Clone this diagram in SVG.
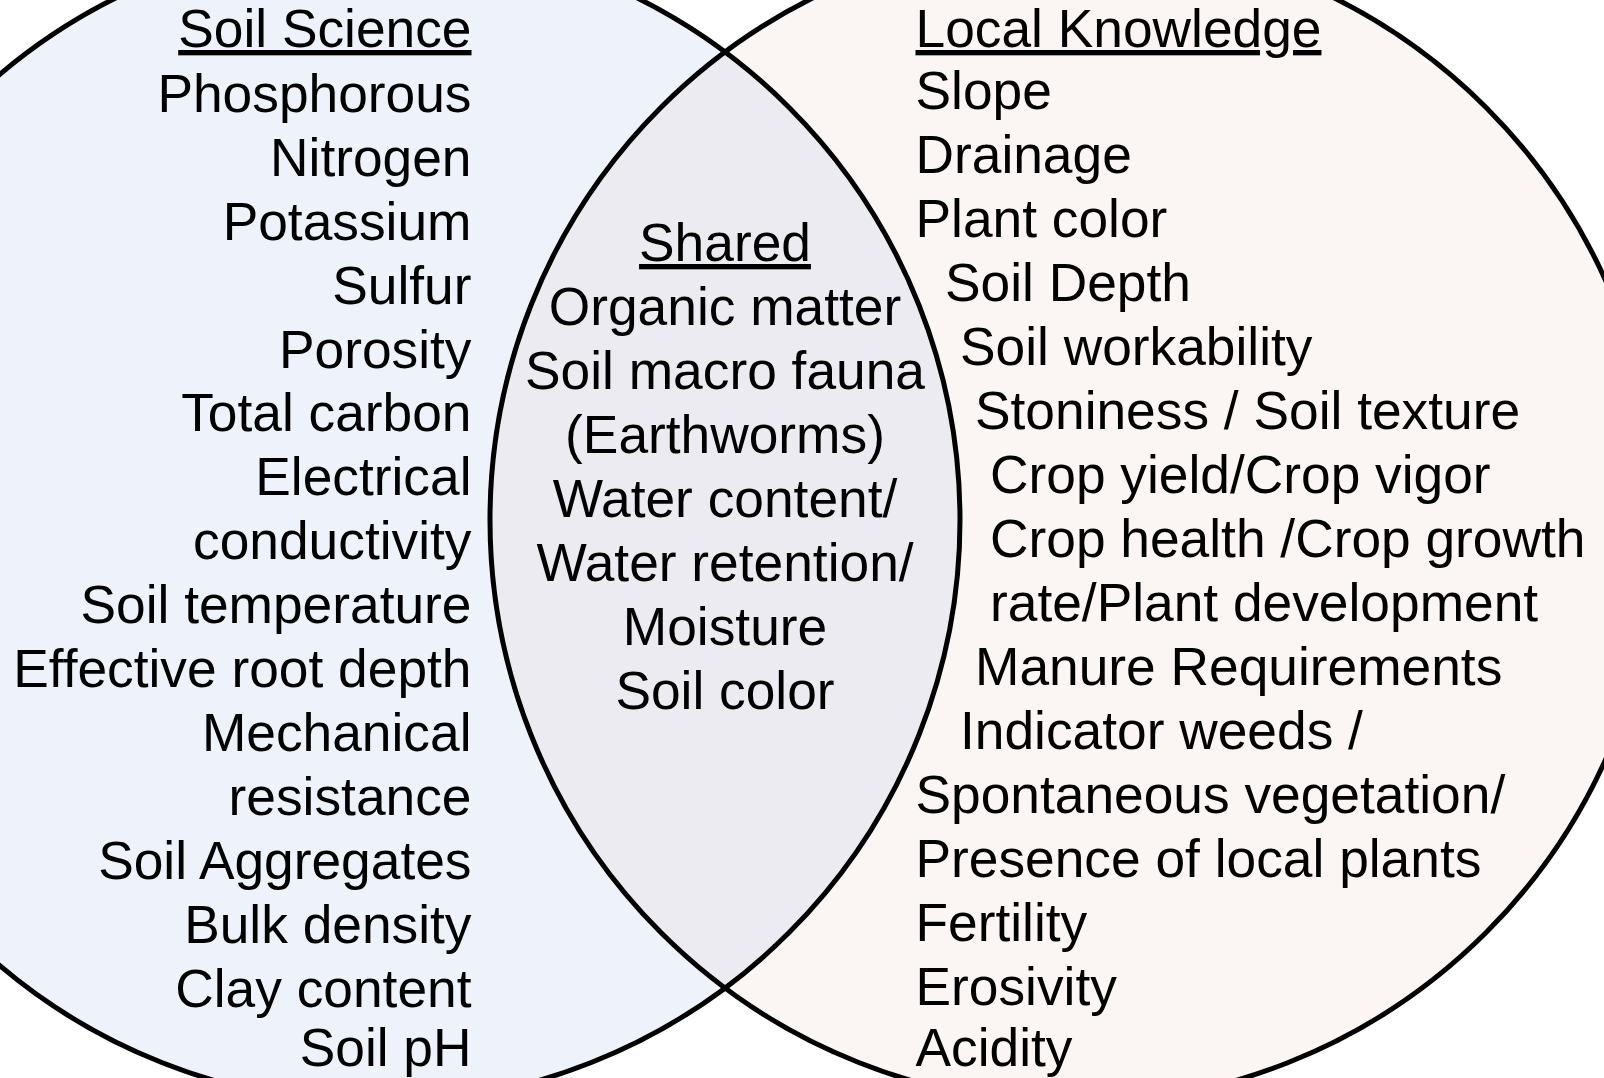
<svg xmlns="http://www.w3.org/2000/svg" width="1604" height="1078" viewBox="0 0 1604 1078">
  <style>
    text { font-family: "Liberation Sans", Arial, sans-serif; font-size: 53.3px; fill: #000; }
    .left { text-anchor: end; }
    .mid { text-anchor: middle; }
    .title { text-decoration: underline; }
    .ring { fill: none; stroke: #000; stroke-width: 5; }
  </style>
  <rect width="1604" height="1078" fill="#ffffff"/>
  <g id="circles">
    <circle id="soil-science-circle" cx="376.5" cy="520" r="583.5" fill="#EEF3FB"/>
    <circle id="local-knowledge-circle" cx="1073.5" cy="520" r="583.5" fill="#FBF6F4"/>
    <path id="shared-lens" d="M725,52 A583.5,583.5 0 0 0 725,988 A583.5,583.5 0 0 0 725,52 Z" fill="#ECEBF1"/>
    <circle class="ring" cx="376.5" cy="520" r="583.5"/>
    <circle class="ring" cx="1073.5" cy="520" r="583.5"/>
  </g>
  <g id="soil-science">
    <text class="left title" x="471.5" y="47">Soil Science</text>
    <text class="left" x="471.5" y="112">Phosphorous</text>
    <text class="left" x="471.5" y="176">Nitrogen</text>
    <text class="left" x="471.5" y="240">Potassium</text>
    <text class="left" x="471.5" y="304">Sulfur</text>
    <text class="left" x="471.5" y="368">Porosity</text>
    <text class="left" x="471.5" y="431">Total carbon</text>
    <text class="left" x="471.5" y="495">Electrical</text>
    <text class="left" x="471.5" y="559">conductivity</text>
    <text class="left" x="471.5" y="623">Soil temperature</text>
    <text class="left" x="471.5" y="687">Effective root depth</text>
    <text class="left" x="471.5" y="751">Mechanical</text>
    <text class="left" x="471.5" y="815">resistance</text>
    <text class="left" x="471.5" y="879">Soil Aggregates</text>
    <text class="left" x="471.5" y="943">Bulk density</text>
    <text class="left" x="471.5" y="1007">Clay content</text>
    <text class="left" x="471.5" y="1066">Soil pH</text>
  </g>
  <g id="shared">
    <text class="mid title" x="725" y="261">Shared</text>
    <text class="mid" x="725" y="325">Organic matter</text>
    <text class="mid" x="725" y="389">Soil macro fauna</text>
    <text class="mid" x="725" y="453">(Earthworms)</text>
    <text class="mid" x="725" y="517">Water content/</text>
    <text class="mid" x="725" y="581">Water retention/</text>
    <text class="mid" x="725" y="645">Moisture</text>
    <text class="mid" x="725" y="709">Soil color</text>
  </g>
  <g id="local-knowledge">
    <text class="title" x="915.5" y="47">Local Knowledge</text>
    <text x="915.5" y="109">Slope</text>
    <text x="915.5" y="173">Drainage</text>
    <text x="915.5" y="237">Plant color</text>
    <text x="945" y="301">Soil Depth</text>
    <text x="960" y="365">Soil workability</text>
    <text x="975" y="429">Stoniness / Soil texture</text>
    <text x="990" y="493">Crop yield/Crop vigor</text>
    <text x="990" y="557">Crop health /Crop growth</text>
    <text x="990" y="621">rate/Plant development</text>
    <text x="975" y="685">Manure Requirements</text>
    <text x="960" y="749">Indicator weeds /</text>
    <text x="915.5" y="813">Spontaneous vegetation/</text>
    <text x="915.5" y="877">Presence of local plants</text>
    <text x="915.5" y="941">Fertility</text>
    <text x="915.5" y="1005">Erosivity</text>
    <text x="915.5" y="1066">Acidity</text>
  </g>
  <g id="connectors"/>
</svg>
